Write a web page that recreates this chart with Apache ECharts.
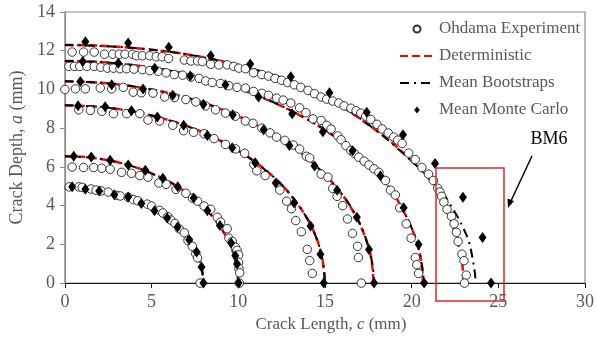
<!DOCTYPE html>
<html>
<head>
<meta charset="utf-8">
<script src="https://cdn.jsdelivr.net/npm/echarts@6/dist/echarts.min.js"></script>
<style>
  html, body { margin: 0; padding: 0; background: #fff; }
  #chart { width: 597px; height: 338px; }
</style>
</head>
<body>
<div id="chart"></div>
<script>
// crack fronts, [c (mm), a (mm)]

// Ohdama Experiment (open circles)
const expFront1 = [[0.25,4.97],[0.8,4.97],[1.0,4.94],[1.5,4.86],[1.8,4.8],[2.1,4.76],[2.5,4.7],[3.0,4.53],[3.2,4.5],[3.65,4.43],[3.95,4.31],[4.2,4.25],[4.75,4.08],[5.0,3.98],[5.46,3.76],[5.65,3.62],[5.94,3.43],[6.12,3.25],[6.35,3.08],[6.6,2.8],[6.89,2.6],[7.1,2.2],[7.35,1.9],[7.55,1.52],[7.65,1.3],[7.8,0]];
const expFront2 = [[0.42,6.0],[1.08,5.97],[1.66,5.97],[2.13,5.93],[2.61,5.88],[3.27,5.72],[3.84,5.67],[4.32,5.55],[4.79,5.47],[5.42,5.17],[5.84,5.1],[6.41,4.84],[6.98,4.64],[7.36,4.39],[7.65,4.23],[8.03,3.98],[8.41,3.81],[8.79,3.4],[8.98,3.15],[9.36,2.81],[9.46,2.32],[9.65,2.15],[9.84,1.85],[9.93,1.69],[10.02,1.46],[10.02,1.07],[10.04,0.75],[10.08,0.53],[10.06,0]];
const expFront3 = [[0.8,8.95],[1.47,8.92],[2.13,8.87],[2.8,8.75],[3.56,8.75],[4.32,8.75],[4.79,8.42],[5.46,8.37],[6.22,8.15],[6.85,7.87],[7.42,7.79],[8.03,7.71],[8.6,7.46],[9.26,7.16],[9.84,6.93],[10.37,6.7],[10.9,6.13],[11.07,5.8],[11.55,5.55],[12.4,4.8],[12.79,4.23],[13.07,3.84],[13.32,3.23],[13.64,2.65],[13.98,1.74],[14.12,1.16],[14.27,0.5]];
const expFront4 = [[0,10.0],[0.61,10.03],[1.18,10.03],[2.04,10.08],[2.7,10.03],[3.37,10.11],[3.94,9.86],[4.41,9.83],[5.08,9.81],[5.75,9.61],[6.32,9.58],[6.98,9.48],[7.55,9.36],[8.12,9.15],[8.69,8.95],[9.26,8.78],[9.84,8.62],[10.41,8.37],[10.85,8.25],[11.36,8.0],[11.83,7.76],[12.21,7.54],[12.69,7.37],[13.17,7.13],[13.54,6.92],[13.93,6.55],[14.12,6.46],[14.78,5.63],[15.17,5.47],[15.45,4.89],[15.7,4.48],[16.02,4.0],[16.3,3.31],[16.59,2.57],[16.88,1.9],[16.93,1.32],[17.1,0]];
const expFront5 = [[0.23,11.19],[0.55,11.19],[0.86,11.19],[1.27,11.19],[1.69,11.19],[2.07,11.15],[2.45,11.1],[2.8,11.1],[3.18,11.07],[3.56,11.07],[3.98,11.05],[4.47,11.02],[4.89,10.97],[5.37,10.94],[5.84,10.86],[6.31,10.77],[6.79,10.74],[7.27,10.64],[7.74,10.57],[8.12,10.44],[8.5,10.36],[8.97,10.31],[9.46,10.19],[9.93,10.11],[10.41,10.07],[10.88,9.9],[11.36,9.8],[11.74,9.7],[12.21,9.55],[12.59,9.45],[13.03,9.3],[13.54,9.05],[13.9,8.8],[14.31,8.48],[14.78,8.4],[15.1,8.15],[15.35,7.95],[15.74,7.6],[15.93,7.4],[16.21,7.1],[16.5,6.85],[16.69,6.7],[16.95,6.5],[17.26,6.3],[17.54,6.1],[17.83,5.9],[18.11,5.72],[18.49,5.3],[18.78,4.8],[19.06,4.55],[19.31,3.89],[19.69,3.06],[19.97,2.32],[20.21,1.32],[20.3,0.95],[20.4,0.5]];
const expFront6 = [[0.42,11.93],[1.08,11.93],[1.69,11.93],[2.28,11.82],[2.76,11.82],[3.14,11.82],[3.46,11.82],[3.9,11.82],[4.13,11.74],[4.47,11.74],[4.89,11.74],[5.27,11.69],[5.61,11.69],[5.98,11.6],[6.89,11.52],[7.27,11.47],[7.65,11.47],[7.93,11.44],[8.41,11.3],[8.88,11.27],[9.36,11.27],[9.74,11.19],[10.03,11.1],[10.41,11.07],[10.88,10.86],[11.36,10.77],[11.74,10.69],[12.12,10.57],[12.5,10.47],[12.85,10.36],[13.23,10.24],[13.6,10.11],[14.02,9.95],[14.4,9.78],[14.78,9.61],[15.1,9.5],[15.45,9.4],[15.8,9.3],[16.1,9.15],[16.5,9.03],[16.8,8.9],[17.07,8.78],[17.35,8.62],[17.64,8.45],[18.0,8.2],[18.3,7.96],[18.65,7.75],[18.97,7.54],[19.2,7.38],[19.45,7.21],[19.83,6.71],[20.21,6.38],[20.59,5.97],[20.97,5.63],[21.25,5.3],[21.5,4.9],[21.63,4.7],[21.73,4.48],[21.86,4.18],[22.04,3.81],[22.3,3.45],[22.45,3.06],[22.58,2.62],[22.68,2.15],[22.9,1.49],[23.02,1.16],[23.15,0.41],[23.05,0]];

// Deterministic (red dashed)
const detFront1 = [[0,4.88],[1,4.84],[2,4.72],[3,4.52],[4,4.23],[5,3.81],[6,3.23],[6.5,2.84],[7,2.36],[7.4,1.85],[7.7,1.32],[7.9,0.77],[8,0]];
const detFront2 = [[0,6.55],[1,6.52],[2,6.42],[3,6.25],[4,6.0],[5,5.67],[6,5.24],[7,4.68],[8,3.93],[8.5,3.45],[9,2.86],[9.5,2.05],[9.8,1.3],[9.95,0.6],[10,0]];
const detFront3 = [[0,9.18],[2,9.1],[4,8.85],[6,8.41],[8,7.77],[10,6.84],[11,6.24],[12,5.51],[13,4.58],[14,3.3],[14.5,2.35],[14.8,1.49],[14.95,0.6],[15,0]];
const detFront4 = [[0,10.42],[2,10.35],[4,10.15],[6,9.81],[8,9.31],[10,8.62],[12,7.7],[13,7.12],[14,6.44],[15,5.61],[16,4.57],[16.6,3.75],[17,3.09],[17.5,1.9],[17.7,1.1],[17.8,0]];
const detFront5 = [[0,11.47],[2,11.42],[4,11.25],[6,10.98],[8,10.57],[10,10.04],[12,9.35],[14,8.45],[15,7.9],[16,7.3],[17,6.55],[18,5.7],[19,4.55],[19.6,3.6],[20,2.85],[20.4,1.8],[20.6,0.8],[20.65,0]];
const detFront6 = [[0,12.3],[2,12.26],[4,12.14],[6,11.95],[8,11.66],[10,11.25],[12,10.75],[13,10.45],[14,10.02],[16,9.1],[17,8.5],[18,7.85],[19,7.15],[20,6.3],[21,5.4],[21.5,4.85],[22,4.0],[22.4,2.85],[22.75,1.8],[22.9,1.15],[23,0]];

// Mean Bootstraps (black dash-dot)
const bootFront1 = [[0,4.88],[2,4.72],[4,4.23],[5,3.81],[6,3.23],[7,2.36],[7.5,1.7],[7.85,0.9],[8,0]];
const bootFront2 = [[0,6.55],[2,6.42],[4,6.0],[6,5.24],[7,4.68],[8,3.93],[9,2.86],[9.5,2.05],[9.85,1.1],[10,0]];
const bootFront3 = [[0,9.18],[2,9.1],[4,8.85],[6,8.41],[8,7.77],[10,6.84],[12,5.51],[13,4.58],[14,3.3],[14.6,2.1],[14.9,1.0],[15,0]];
const bootFront4 = [[0,10.42],[2,10.35],[4,10.15],[6,9.81],[8,9.31],[10,8.62],[12,7.7],[14,6.44],[16,4.57],[17,3.09],[17.5,1.9],[17.75,0.9],[17.85,0]];
const bootFront5 = [[0,11.47],[2,11.42],[4,11.25],[6,10.98],[8,10.57],[10,10.04],[12,9.35],[14,8.45],[16,7.3],[18,5.7],[19,4.55],[20,2.85],[20.45,1.6],[20.65,0.6],[20.7,0]];
const bootFront6 = [[0,12.3],[4,12.14],[8,11.66],[12,10.75],[14,10.02],[16,9.1],[18,7.85],[20,6.3],[21,5.45],[21.7,4.8],[22.2,4.1],[22.6,3.5],[22.95,2.9],[23.3,2.15],[23.5,1.35],[23.65,0.5],[23.7,0]];

// Mean Monte Carlo (black diamonds)
const mcFront1 = [[0.42,4.97],[1.18,4.85],[1.98,4.75],[2.85,4.56],[3.65,4.44],[4.41,4.11],[5.17,3.73],[5.9,3.36],[6.5,2.9],[7.17,2.24],[7.6,1.6],[7.88,0.83],[7.99,0]];
const mcFront2 = [[0.51,6.55],[1.52,6.51],[2.61,6.35],[3.65,6.1],[4.64,5.83],[5.65,5.42],[6.51,4.97],[7.43,4.39],[8.22,3.73],[8.94,2.98],[9.59,2.07],[9.83,1.41],[9.93,0.99],[10.02,0]];
const mcFront3 = [[0.76,9.16],[2.32,9.11],[3.84,8.9],[5.33,8.58],[6.85,8.15],[8.22,7.62],[9.65,6.99],[10.98,6.22],[12.16,5.17],[13.22,4.14],[14.17,2.95],[14.74,1.49],[14.93,0]];
const mcFront4 = [[0.89,10.41],[2.7,10.24],[4.51,10.03],[6.22,9.7],[7.99,9.23],[9.68,8.7],[11.46,7.92],[12.95,7.1],[14.4,6.05],[15.7,4.8],[16.84,3.4],[17.54,1.74],[17.83,0]];
const mcFront5 = [[1.03,11.44],[3.08,11.35],[5.18,11.1],[7.23,10.69],[9.26,10.24],[11.17,9.61],[13.11,8.75],[14.88,7.82],[16.59,6.83],[18.2,5.55],[19.54,3.89],[20.4,1.99],[20.72,0]];
const mcFront6 = [[1.18,12.46],[3.65,12.4],[5.99,12.18],[8.41,11.74],[10.69,11.32],[13.03,10.66],[15.26,9.83],[17.41,8.82],[19.5,7.66],[21.35,6.17],[22.96,4.43],[24.09,2.35],[24.58,0]];

const legendNames = ['Ohdama Experiment', 'Deterministic', 'Mean Bootstraps', 'Mean Monte Carlo'];
const xTicks = { min: 0, max: 30, interval: 5 };
const yTicks = { min: 0, max: 14, interval: 2 };

const detFronts = [detFront1, detFront2, detFront3, detFront4, detFront5, detFront6];
const bootFronts = [bootFront1, bootFront2, bootFront3, bootFront4, bootFront5, bootFront6];
const expAll = [].concat(expFront1, expFront2, expFront3, expFront4, expFront5, expFront6);
const mcAll = [].concat(mcFront1, mcFront2, mcFront3, mcFront4, mcFront5, mcFront6);

const serif = "'Liberation Serif', 'Times New Roman', serif";
const gray = '#595959';

const series = [];
detFronts.forEach(d => {
    series.push({
        name: 'Deterministic', type: 'line', data: d, smooth: 0.35,
        symbol: 'none', z: 2,
        lineStyle: { color: '#ff0000', width: 2.5, type: [8, 4] },
        itemStyle: { color: '#ff0000' }
    });
});
bootFronts.forEach(d => {
    series.push({
        name: 'Mean Bootstraps', type: 'line', data: d, smooth: 0.35,
        symbol: 'none', z: 3,
        lineStyle: { color: '#000', width: 2, type: [9, 5, 2, 5] },
        itemStyle: { color: '#000' }
    });
});
series.push({
    name: 'Ohdama Experiment', type: 'scatter', data: expAll, z: 4,
    symbol: 'circle', symbolSize: 8.5,
    itemStyle: { color: '#fff', borderColor: '#333', borderWidth: 1, opacity: 1 }
});
series.push({
    name: 'Mean Monte Carlo', type: 'scatter', data: mcAll, z: 5,
    symbol: 'diamond', symbolSize: [8, 11],
    itemStyle: { color: '#000', opacity: 1 }
});

const chart = echarts.init(document.getElementById('chart'), null, { renderer: 'canvas' });
chart.setOption({
    animation: false,
    backgroundColor: '#fff',
    textStyle: { fontFamily: serif },
    grid: {
        left: 61, right: 10, top: 12, bottom: 45,
        show: true, borderColor: '#8c8c8c', borderWidth: 1.2
    },
    legend: {
        data: [
            { name: 'Ohdama Experiment' },
            { name: 'Deterministic', itemStyle: { opacity: 0 } },
            { name: 'Mean Bootstraps', itemStyle: { opacity: 0 } },
            { name: 'Mean Monte Carlo', icon: 'path://M4,0L8,5L4,10L0,5Z' }
        ],
        orient: 'vertical',
        left: 394, top: 15,
        itemWidth: 34, itemHeight: 7, itemGap: 9, symbolKeepAspect: true,
        textStyle: { fontFamily: serif, fontSize: 17, color: gray, lineHeight: 18 }
    },
    xAxis: {
        type: 'value', min: xTicks.min, max: xTicks.max, interval: xTicks.interval,
        name: '{n|Crack Length, }{i|c}{n| (mm)}',
        nameLocation: 'middle', nameGap: 27,
        nameTextStyle: {
            padding: [0, 0, 0, 12],
            rich: {
                n: { fontFamily: serif, fontSize: 17, color: gray },
                i: { fontFamily: serif, fontSize: 17, color: gray, fontStyle: 'italic' }
            }
        },
        axisLine: { show: true, onZero: false, lineStyle: { color: '#1a1a1a', width: 1.2 } },
        axisTick: { show: true, inside: false, length: 5, lineStyle: { color: '#1a1a1a' } },
        axisLabel: { margin: 10, fontFamily: serif, fontSize: 18, color: gray },
        splitLine: { show: false }
    },
    yAxis: {
        type: 'value', min: yTicks.min, max: yTicks.max, interval: yTicks.interval,
        name: '{n|Crack Depth, }{i|a}{n| (mm)}',
        nameLocation: 'middle', nameGap: 33,
        nameTextStyle: {
            rich: {
                n: { fontFamily: serif, fontSize: 18, color: gray },
                i: { fontFamily: serif, fontSize: 18, color: gray, fontStyle: 'italic' }
            }
        },
        axisLine: { show: true, lineStyle: { color: '#8c8c8c', width: 1.2 } },
        axisTick: { show: true, inside: false, length: 5, lineStyle: { color: '#8c8c8c' } },
        axisLabel: { margin: 10, fontFamily: serif, fontSize: 18, color: gray },
        splitLine: { show: false }
    },
    series: series,
    graphic: [
        {
            type: 'rect', z: 10,
            shape: { x: 436, y: 168, width: 68, height: 133 },
            style: { fill: 'none', stroke: '#e3262b', lineWidth: 1.5 }
        },
        {
            type: 'line', z: 10,
            shape: { x1: 532, y1: 156, x2: 510, y2: 203 },
            style: { stroke: '#000', lineWidth: 1.5 }
        },
        {
            type: 'polygon', z: 10,
            shape: { points: [[508, 208], [514, 201], [507.5, 198.5]] },
            style: { fill: '#000' }
        },
        {
            type: 'text', z: 10, x: 549, y: 139,
            style: { text: 'BM6', fontFamily: serif, fontSize: 18, fill: '#000', align: 'center', verticalAlign: 'middle' }
        }
    ]
});
</script>
</body>
</html>
